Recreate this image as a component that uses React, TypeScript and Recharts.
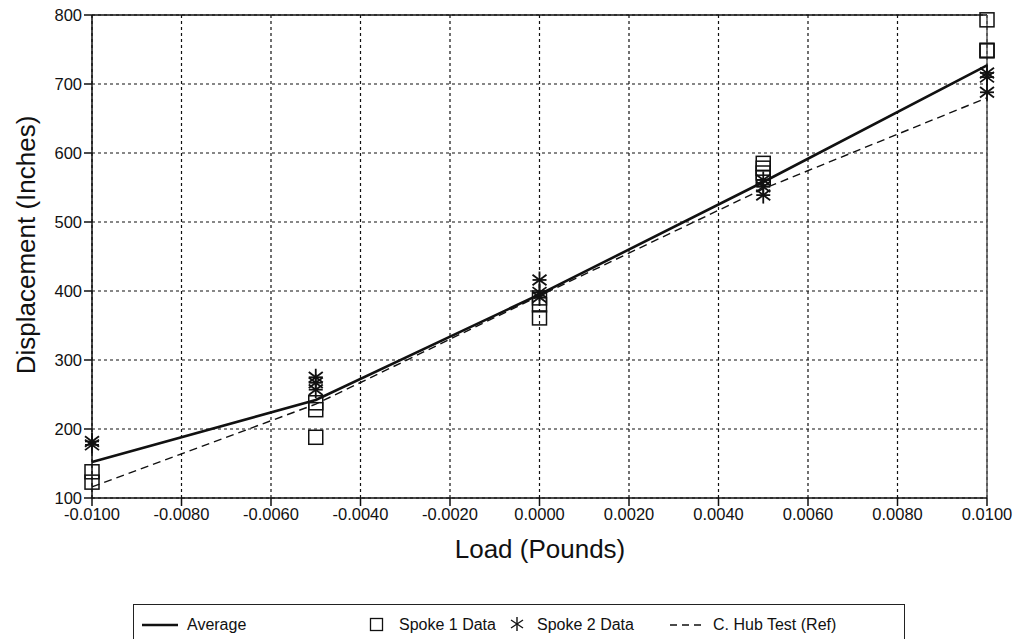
import { ScatterChart, Scatter, XAxis, YAxis, CartesianGrid, ReferenceLine, Label } from "recharts"

const xTicks = [-0.01, -0.008, -0.006, -0.004, -0.002, 0, 0.002, 0.004, 0.006, 0.008, 0.01]
const yTicks = [100, 200, 300, 400, 500, 600, 700, 800]

const average = [
  { x: -0.01, y: 152 },
  { x: -0.005, y: 242 },
  { x: 0, y: 395 },
  { x: 0.005, y: 558 },
  { x: 0.01, y: 727 },
]

const hubRef = [
  { x: -0.01, y: 116 },
  { x: -0.005, y: 236 },
  { x: 0, y: 393 },
  { x: 0.005, y: 548 },
  { x: 0.01, y: 680 },
]

const spoke1 = [
  { x: -0.01, y: 138 },
  { x: -0.01, y: 123 },
  { x: -0.005, y: 188 },
  { x: -0.005, y: 228 },
  { x: -0.005, y: 238 },
  { x: 0, y: 361 },
  { x: 0, y: 380 },
  { x: 0, y: 390 },
  { x: 0.005, y: 585 },
  { x: 0.005, y: 578 },
  { x: 0.005, y: 571 },
  { x: 0.005, y: 564 },
  { x: 0.01, y: 793 },
  { x: 0.01, y: 749 },
  { x: 0.01, y: 748 },
]

const spoke2 = [
  { x: -0.01, y: 182 },
  { x: -0.01, y: 177 },
  { x: -0.005, y: 275 },
  { x: -0.005, y: 267 },
  { x: -0.005, y: 257 },
  { x: 0, y: 416 },
  { x: 0, y: 398 },
  { x: 0, y: 391 },
  { x: 0.005, y: 561 },
  { x: 0.005, y: 551 },
  { x: 0.005, y: 539 },
  { x: 0.01, y: 716 },
  { x: 0.01, y: 710 },
  { x: 0.01, y: 688 },
]

const FONT = "'Liberation Sans', Arial, Helvetica, sans-serif"

function SquareMark(props: any) {
  const { cx, cy } = props
  return <rect x={cx - 7} y={cy - 7} width={14} height={14} fill="none" stroke="#111" strokeWidth={1.5} />
}

function StarMark(props: any) {
  const { cx, cy } = props
  const r = 8.5
  const d = 7
  return (
    <g stroke="#111" strokeWidth={1.8}>
      <line x1={cx} y1={cy - r} x2={cx} y2={cy + r} />
      <line x1={cx - d} y1={cy - d * 0.75} x2={cx + d} y2={cy + d * 0.75} />
      <line x1={cx - d} y1={cy + d * 0.75} x2={cx + d} y2={cy - d * 0.75} />
      <line x1={cx - d} y1={cy} x2={cx + d} y2={cy} />
    </g>
  )
}

const NoMark = () => <g />

const tickStyle = { fontSize: 16.5, fill: "#111", fontFamily: FONT }

// legend box runs off the bottom of the page, so only top and sides show
function Legend() {
  const text = { position: "absolute" as const, top: 11, fontSize: 16, fontFamily: FONT, color: "#111" }
  return (
    <div
      style={{
        position: "absolute",
        left: 133,
        top: 604,
        width: 772,
        height: 50,
        border: "1.5px solid #222",
        boxSizing: "border-box",
      }}
    >
      <svg style={{ position: "absolute", left: 8, top: 12 }} width={36} height={16}>
        <line x1={0} y1={8} x2={36} y2={8} stroke="#111" strokeWidth={2.5} />
      </svg>
      <span style={{ ...text, left: 53 }}>Average</span>
      <svg style={{ position: "absolute", left: 235, top: 12 }} width={16} height={16}>
        <rect x={1.5} y={1.5} width={12} height={12} fill="none" stroke="#111" strokeWidth={1.3} />
      </svg>
      <span style={{ ...text, left: 265 }}>Spoke 1 Data</span>
      <svg style={{ position: "absolute", left: 375, top: 10 }} width={16} height={18}>
        <g stroke="#111" strokeWidth={1.4}>
          <line x1={8} y1={2} x2={8} y2={16} />
          <line x1={2} y1={5} x2={14} y2={13} />
          <line x1={2} y1={13} x2={14} y2={5} />
        </g>
      </svg>
      <span style={{ ...text, left: 403 }}>Spoke 2 Data</span>
      <svg style={{ position: "absolute", left: 536, top: 12 }} width={32} height={16}>
        <line x1={0} y1={8} x2={32} y2={8} stroke="#111" strokeWidth={1.3} strokeDasharray="7 5" />
      </svg>
      <span style={{ ...text, left: 579 }}>C. Hub Test (Ref)</span>
    </div>
  )
}

export default function App() {
  return (
    <div
      style={{ position: "absolute", left: 0, top: 0, width: 1020, height: 639, background: "#fff", overflow: "hidden" }}
    >
      <ScatterChart width={1020} height={600} margin={{ top: 15, right: 33, left: 0, bottom: 0 }}>
        <CartesianGrid stroke="#111" strokeWidth={1.2} strokeDasharray="3 3" horizontalValues={yTicks} verticalValues={xTicks} />
        <XAxis
          type="number"
          dataKey="x"
          domain={[-0.01, 0.01]}
          ticks={xTicks}
          tickFormatter={(v: number) => v.toFixed(4)}
          height={102}
          tickSize={8}
          tick={tickStyle}
          stroke="#111"
          strokeWidth={1.5}
        >
          <Label
            content={() => (
              <text x={540} y={549} textAnchor="middle" dominantBaseline="central" fontSize={26} fontFamily={FONT} fill="#111">
                Load (Pounds)
              </text>
            )}
          />
        </XAxis>
        <YAxis
          type="number"
          dataKey="y"
          domain={[100, 800]}
          ticks={yTicks}
          width={92}
          tickSize={8}
          tick={tickStyle}
          stroke="#111"
          strokeWidth={1.5}
        >
          <Label
            content={() => (
              <text
                x={26}
                y={245}
                transform="rotate(-90 26 245)"
                textAnchor="middle"
                dominantBaseline="central"
                fontSize={26}
                fontFamily={FONT}
                fill="#111"
              >
                Displacement (Inches)
              </text>
            )}
          />
        </YAxis>
        <ReferenceLine y={800} stroke="#111" strokeWidth={1.5} />
        <ReferenceLine x={0.01} stroke="#555" strokeWidth={1.5} />
        <Scatter
          data={hubRef}
          line={{ stroke: "#111", strokeWidth: 1.4, strokeDasharray: "8 5" }}
          lineType="joint"
          shape={NoMark}
          isAnimationActive={false}
        />
        <Scatter
          data={average}
          line={{ stroke: "#111", strokeWidth: 2.6 }}
          lineType="joint"
          shape={NoMark}
          isAnimationActive={false}
        />
        <Scatter data={spoke1} shape={SquareMark} isAnimationActive={false} />
        <Scatter data={spoke2} shape={StarMark} isAnimationActive={false} />
      </ScatterChart>
      <Legend />
    </div>
  )
}
